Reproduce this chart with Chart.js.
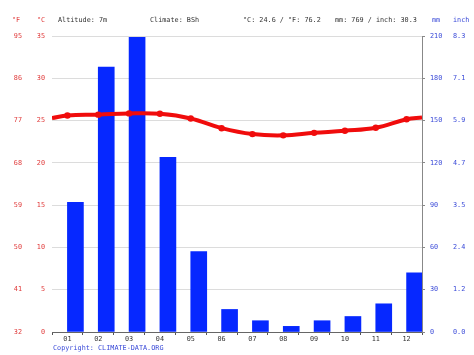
<!DOCTYPE html>
<html>
<head>
<meta charset="utf-8">
<script src="https://cdn.jsdelivr.net/npm/chart.js@4/dist/chart.umd.min.js"></script>
<style>
  html, body { margin: 0; padding: 0; background: #fff; }
  #wrap { width: 474px; height: 355px; position: relative; }
</style>
</head>
<body>
<div id="wrap"><canvas id="climateChart"></canvas></div>
<script>
// Climate data
const months = ['01', '02', '03', '04', '05', '06', '07', '08', '09', '10', '11', '12'];
const precipMm = [92, 188, 209, 124, 57, 16, 8, 4, 8, 11, 20, 42];
const tempC = [25.6, 25.7, 25.85, 25.8, 25.25, 24.1, 23.4, 23.25, 23.55, 23.8, 24.15, 25.15];
// where the temperature curve meets the left / right edge of the plot
const tempEdges = [25.3, 25.35];
const headerTexts = [
    ['°F', 12, '#e03a3a'],
    ['°C', 37, '#e03a3a'],
    ['Altitude: 7m', 58, '#333'],
    ['Climate: BSh', 150, '#333'],
    ['°C: 24.6 / °F: 76.2', 243, '#333'],
    ['mm: 769 / inch: 30.3', 335, '#333'],
    ['mm', 432, '#3a4ad8'],
    ['inch', 453, '#3a4ad8']
];
const copyright = 'Copyright: CLIMATE-DATA.ORG';

const MONO = "'DejaVu Sans Mono', monospace";
const RED = '#e03a3a';
const BLUE = '#3a4ad8';

document.addEventListener('DOMContentLoaded', function() {
    const canvas = document.getElementById('climateChart');
    const ctx = canvas.getContext('2d');

    // line points on a hidden linear axis so the curve can run to the plot edges
    const linePoints = [{ x: 0.5, y: tempEdges[0] }];
    tempC.forEach(function(t, i) { linePoints.push({ x: i + 1, y: t }); });
    linePoints.push({ x: 12.5, y: tempEdges[1] });

    // header + copyright texts
    const textPlugin = {
        id: 'texts',
        afterDraw: function(chart) {
            const c = chart.ctx;
            c.save();
            c.font = '6.8px ' + MONO;
            c.textBaseline = 'middle';
            c.textAlign = 'left';
            headerTexts.forEach(function(h) {
                c.fillStyle = h[2];
                c.fillText(h[0], h[1], 20);
            });
            c.fillStyle = BLUE;
            c.fillText(copyright, 53, 348);
            c.restore();
        }
    };

    new Chart(ctx, {
        data: {
            labels: months,
            datasets: [
                {
                    type: 'line',
                    data: linePoints,
                    xAxisID: 'xLine',
                    yAxisID: 'yC',
                    borderColor: '#f00c0c',
                    backgroundColor: '#f00c0c',
                    borderWidth: 4,
                    tension: 0.4,
                    pointBorderWidth: 0,
                    pointRadius: function(c) {
                        return (c.dataIndex === 0 || c.dataIndex === linePoints.length - 1) ? 0 : 3.2;
                    },
                    order: 1
                },
                {
                    type: 'bar',
                    data: precipMm,
                    xAxisID: 'x',
                    yAxisID: 'yMm',
                    backgroundColor: '#0628ff',
                    barThickness: 16,
                    order: 2
                }
            ]
        },
        options: {
            responsive: true,
            maintainAspectRatio: false,
            animation: false,
            layout: { padding: { top: 36, left: 0, right: 0, bottom: 0 } },
            plugins: {
                legend: { display: false },
                tooltip: { enabled: false }
            },
            scales: {
                x: {
                    type: 'category',
                    offset: true,
                    grid: {
                        offset: true,
                        drawOnChartArea: false,
                        drawTicks: true,
                        tickLength: 3,
                        color: '#555'
                    },
                    border: { color: '#666', width: 1 },
                    ticks: {
                        color: '#333',
                        font: { family: MONO, size: 6.8 },
                        padding: 0,
                        maxRotation: 0
                    },
                    afterFit: function(s) { s.height = 23; }
                },
                xLine: {
                    type: 'linear',
                    min: 0.5,
                    max: 12.5,
                    display: false
                },
                yC: {
                    position: 'left',
                    weight: 1,
                    min: 0,
                    max: 35,
                    ticks: {
                        stepSize: 5,
                        color: RED,
                        font: { family: MONO, size: 6.8 },
                        padding: 7
                    },
                    grid: {
                        color: '#dcdcdc',
                        drawTicks: false
                    },
                    border: { display: false },
                    afterFit: function(s) { s.width = 25; }
                },
                yF: {
                    position: 'left',
                    weight: 2,
                    min: 0,
                    max: 35,
                    ticks: {
                        stepSize: 5,
                        color: RED,
                        font: { family: MONO, size: 6.8 },
                        padding: 5,
                        callback: function(v) { return String(Math.round(v * 9 / 5 + 32)); }
                    },
                    grid: { display: false, drawTicks: false },
                    border: { display: false },
                    afterFit: function(s) { s.width = 27; }
                },
                yMm: {
                    position: 'right',
                    weight: 1,
                    min: 0,
                    max: 210,
                    ticks: {
                        stepSize: 30,
                        color: BLUE,
                        font: { family: MONO, size: 6.8 },
                        padding: 5
                    },
                    grid: {
                        drawOnChartArea: false,
                        tickLength: 3,
                        color: '#888'
                    },
                    border: { color: '#888', width: 1 },
                    afterFit: function(s) { s.width = 30; }
                },
                yIn: {
                    position: 'right',
                    weight: 2,
                    min: 0,
                    max: 210,
                    ticks: {
                        stepSize: 30,
                        color: BLUE,
                        font: { family: MONO, size: 6.8 },
                        padding: 1,
                        callback: function(v) { return (v / 25.4).toFixed(1); }
                    },
                    grid: { display: false, drawTicks: false },
                    border: { display: false },
                    afterFit: function(s) { s.width = 22; }
                }
            }
        },
        plugins: [textPlugin]
    });
});
</script>
</body>
</html>
